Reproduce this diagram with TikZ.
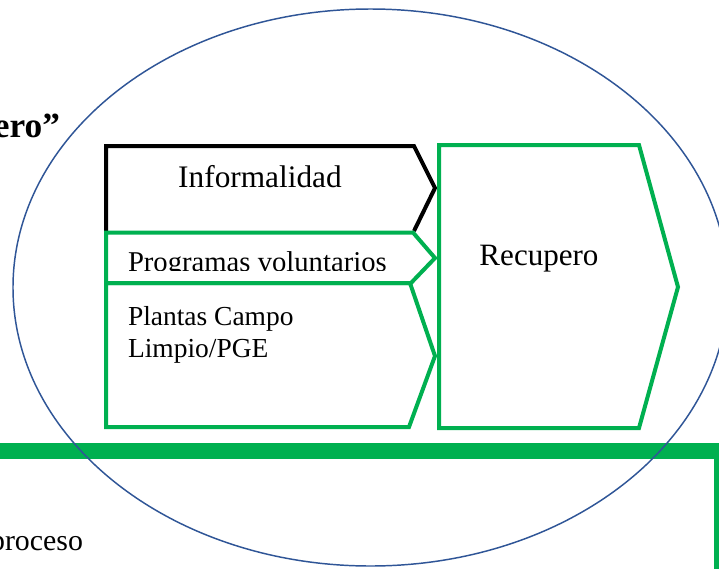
\documentclass[tikz,border=0pt]{standalone}
\usepackage{fontspec}
\setmainfont{Liberation Serif}
\definecolor{officegreen}{HTML}{00B050}
\definecolor{ellblue}{HTML}{2F5597}
\begin{document}
\begin{tikzpicture}[x=0.75pt,y=-0.75pt,
  chev/.style={line width=3pt, line join=miter},
  lbl/.style={inner sep=0pt, outer sep=0pt, text=black}]
\clip (0,0) rectangle (719,569);
\fill[white] (0,0) rectangle (719,569);
% chevrons
\draw[chev, black] (414,231) -- (435,188) -- (414,146) -- (106,146) -- (106,231);
\draw[chev, officegreen] (106,232.5) -- (413,232.5) -- (435,258) -- (411,283) -- (106,283) -- cycle;
\draw[chev, officegreen] (106,283) -- (410,283) -- (435,356) -- (409,427) -- (106,427) -- cycle;
\draw[chev, officegreen] (439,145) -- (639,145) -- (678,287) -- (639,428) -- (439,428) -- cycle;
% bar and right edge
\fill[officegreen] (0,443) rectangle (719,459);
\fill[officegreen] (714.3,459) rectangle (719,569);
% texts
\node[lbl, anchor=base, font=\fontsize{23.5}{28}\selectfont] (inf) at (260,187) {Informalidad};
\begin{scope}
\clip (108,235) rectangle (410,270.5);
\node[lbl, anchor=base west, font=\fontsize{21.5}{26}\selectfont] (prog) at (128,271) {Programas voluntarios};
\end{scope}
\node[lbl, anchor=base west, font=\fontsize{20.6}{24}\selectfont] (pla1) at (128,325) {Plantas Campo};
\node[lbl, anchor=base west, font=\fontsize{20.6}{24}\selectfont] (pla2) at (128,357) {Limpio/PGE};
\node[lbl, anchor=base, font=\fontsize{23.3}{28}\selectfont] (rec) at (539,265) {Recupero};
\node[lbl, anchor=base east, font=\fontsize{26.5}{32}\selectfont\bfseries] (ero) at (60,137) {ero”};
\node[lbl, anchor=base east, font=\fontsize{22.4}{27}\selectfont] (pro) at (83,550) {proceso};
% ellipse
\draw[ellblue, line width=1.1pt] (370.5,287.5) ellipse [x radius=268.125pt, y radius=208.875pt];
\end{tikzpicture}
\end{document}
